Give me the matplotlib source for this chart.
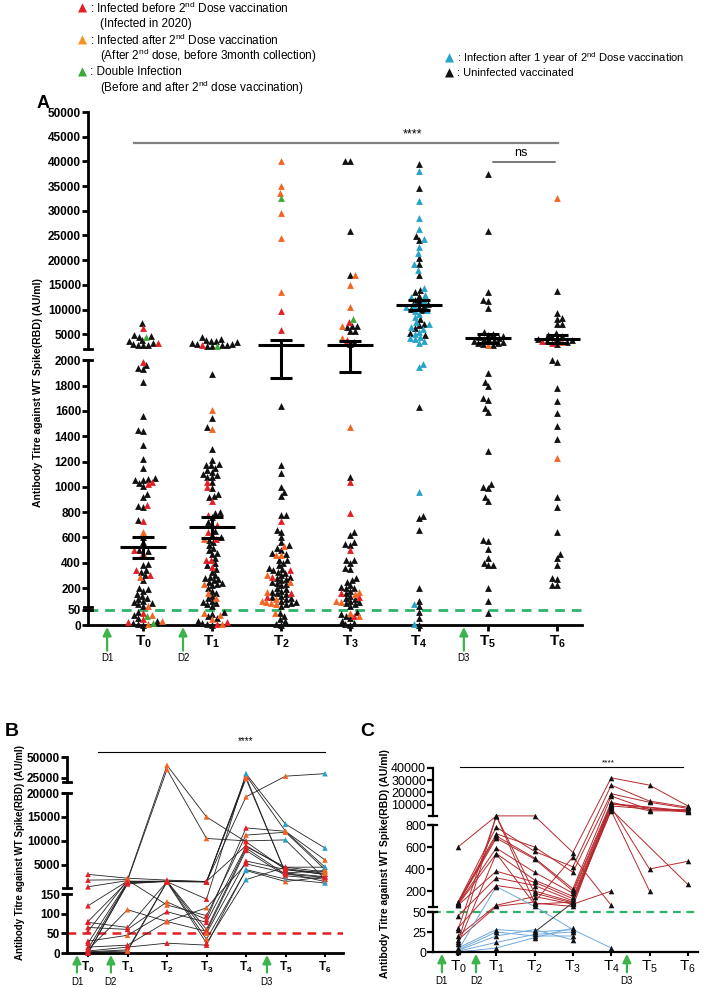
import numpy as np
import matplotlib
matplotlib.use('Agg')
import matplotlib.pyplot as plt
import matplotlib.transforms as mtransforms

plt.rcParams['font.family'] = ['Liberation Sans', 'DejaVu Sans']
plt.rcParams['mathtext.fontset'] = 'custom'
plt.rcParams['mathtext.rm'] = 'Liberation Sans'
plt.rcParams['mathtext.bf'] = 'Liberation Sans:bold'
plt.rcParams['mathtext.it'] = 'Liberation Sans:italic'

W, H = 710, 988
RED, ORANGE, GREEN, CYAN, BLACK = '#e31e24', '#f26522', '#3aaa35', '#27a2c8', '#111111'
LINE_GREEN = '#2fb36b'

time_labels = ['0', '1', '2', '3', '4', '5', '6']
dose_labels = ['D1', 'D2', 'D3']

# ---------------- panel A: titre per time point, split by infection group
a_black = [
    [7200, 4800, 4700, 4500, 3800, 3600, 3300, 3000, 2900, 2800, 2800,
     1960, 1940, 1930, 1830, 1560, 1450, 1440, 1330, 1220, 1150, 1070, 1060, 1055, 1050, 1030, 1010,
     940, 920, 850, 840, 740, 600, 560, 500, 490, 390, 380, 340, 330, 300, 260, 200, 190, 180,
     150, 140, 125, 110, 100, 90, 80, 70, 60,
     45, 35, 25, 15, 8, 3, 0],
    [4400, 4000, 3900, 3700, 3600, 3400, 3300, 3100, 3000, 2900, 2800, 2700, 2600,
     1890, 1540, 1470, 1300, 1210, 1180, 1170, 1170, 1150, 1130, 1120, 1100, 1090, 1080, 1080, 1040,
     990, 940, 930, 920, 800, 790, 760, 720, 700, 650, 620, 600, 580, 560, 540, 520, 500, 480, 470,
     440, 400, 380, 350, 330, 300, 290, 280, 270, 260, 250, 240, 230, 220, 200, 180, 160,
     140, 120, 100, 90, 80, 70, 60,
     45, 38, 30, 22, 15, 8, 3, 0],
    [1640, 1170, 1110, 1000, 960, 930, 780, 780, 660, 640, 600, 560, 540, 520, 500, 480, 470,
     420, 420, 400, 380, 360, 350, 340, 330, 320, 300, 290, 280, 270, 260, 250, 240, 230, 220,
     200, 190, 180, 170, 160, 150, 140, 130, 120, 110, 100, 90, 80, 70, 60,
     40, 30, 20, 12, 5, 1],
    [40000, 40000, 26000, 17000, 6700, 6600, 6500, 5700, 5700, 3500, 3000,
     1080, 640, 620, 560, 550, 540, 420, 420, 400, 360, 350, 280, 260, 250, 220, 210, 200, 200,
     180, 160, 140, 120, 110, 100, 90, 80, 70, 60,
     45, 38, 30, 22, 15, 8, 3, 0],
    [39400, 34600, 24800, 24000, 20500, 19300, 17000, 14000, 13500, 12800, 12000, 11500, 11200,
     10800, 10500, 10200, 9800, 8000, 7000, 6800, 6200, 5200, 4800,
     1630, 770, 750, 660, 200, 100, 60, 45, 25, 0],
    [37500, 26000, 13500, 12000, 11800, 10400, 5500, 5000, 4800, 4600, 4400, 4200, 4000, 3900,
     3800, 3700, 3500, 3300, 3200, 3000, 2900,
     1900, 1830, 1800, 1700, 1690, 1620, 1590, 1280, 1020, 1000, 990, 920, 890, 580, 570, 510,
     440, 400, 380, 380, 200, 100, 40],
    [13800, 9300, 8300, 8100, 7000, 7000, 5200, 4800, 4600, 4400, 4200, 4000, 3800, 3600, 3500,
     3100, 2000, 1990, 1780, 1680, 1580, 1480, 1380, 920, 840, 640, 470, 440, 380, 280, 270,
     220, 220],
]
a_red = [
    [6200, 3300, 1990, 1040, 1020, 860, 730, 500, 480, 340, 300, 40, 20, 10],
    [2800, 1040, 1000, 890, 780, 700, 640, 590, 420, 420, 370, 10, 5],
    [9700, 5800, 730, 340, 290, 160, 130],
    [7400, 3800, 1040, 790, 500, 160, 130, 30],
    [], [], [3600, 3300],
]
a_orange = [
    [640, 290, 60, 35, 15, 5],
    [1610, 1460, 590, 230, 160, 120, 40, 35, 20, 5],
    [40000, 35000, 33500, 29500, 24500, 13500, 530, 460, 460, 300, 250, 170, 110, 100, 90,
     80, 70, 40],
    [17000, 15000, 10500, 6700, 4200, 1470, 170, 150, 100, 90, 40, 30],
    [], [2800], [32500, 3400, 1230],
]
a_green = [[4400, 30, 8], [2650], [32500], [8000], [], [], []]
a_cyan = [
    [], [], [], [],
    [38000, 32000, 28500, 26300, 24200, 22700, 21500, 19300, 18000, 14400, 13000, 12500, 12000,
     11000, 10500, 10000, 9600, 9000, 8500, 7500, 7000, 6500, 6000, 5500, 5000, 4500, 4200, 4000,
     3600, 3300, 1970, 1945, 960, 70, 2],
    [], [],
]
a_mean = [526, 684, 2800, 2800, 10900, 4200, 4000]
a_sem_lo = [439, 597, 1858, 1905, 9900, 3300, 3300]
a_sem_hi = [605, 763, 3800, 3600, 11900, 5100, 4800]
a_yticks = [0, 50, 200, 400, 600, 800, 1000, 1200, 1400, 1600, 1800, 2000,
            5000, 10000, 15000, 20000, 25000, 30000, 35000, 40000, 45000, 50000]

# ---------------- panel B: follow-up of infected subjects
b_values = [
    [3000, 2200, 1800, 1500, 26000, 3300, 2500],
    [1800, 1900, 40000, 15000, 9800, 4000, 3000],
    [400, 1700, 35000, 10500, 10000, 10200, 2000],
    [120, 1600, 1500, 1400, 28000, 12000, 6000],
    [80, 1500, 1600, 1500, 19200, 27000, 30000],
    [78, 65, 1450, 137, 30000, 13500, 8500],
    [65, 60, 130, 85, 12700, 12000, 4500],
    [55, 1800, 122, 95, 11200, 11800, 4000],
    [30, 45, 105, 78, 8800, 4500, 3500],
    [25, 1400, 1550, 60, 8500, 3000, 2400],
    [15, 20, 80, 55, 8000, 2700, 2000],
    [10, 1300, 1500, 50, 5800, 4000, 3000],
    [8, 110, 80, 115, 5200, 3300, 1500],
    [5, 15, 25, 20, 4000, 2000, 1200],
    [3, 8, 1500, 35, 3800, 1500, 2500],
    [2, 5, 1400, 25, 1900, 4500, 4500],
    [0, 1200, 1500, 1450, 24000, 3300, 3800],
    [0, 1000, 1600, 1500, 9000, 4200, 3200],
]
b_groups = ['rooorrr', 'rrooorr', 'rroorcr', 'rorrooo', 'rrrrooc', 'rrorccc', 'rrorroc',
            'roorooo', 'rorrrro', 'rrroroo', 'rrrrrrr', 'rroorrr', 'rooorro', 'rrrrccc',
            'rrrocor', 'rorrcrc', 'rrrroro', 'rrrrrro']
b_yticks = [0, 50, 100, 150, 5000, 10000, 15000, 20000, 25000, 50000]

# ---------------- panel C: follow-up of uninfected subjects
nan = np.nan
c_values = [
    [600, 880, 880, 550, 32000, 26000, 9000],
    [100, 780, 560, 420, 26000, 13000, 8000],
    [95, 720, 600, 370, 19000, 12000, 7000],
    [90, 700, 500, 220, 17000, 6000, 6000],
    [85, 680, 490, 200, 12000, 5000, 5000],
    [80, 590, 370, 180, 10500, nan, 4500],
    [75, 540, 300, 150, 9000, nan, 4000],
    [70, 380, 280, 130, 8000, 400, 470],
    [45, 320, 250, 110, 6000, nan, 260],
    [30, 250, 200, 100, 5000, 200, nan],
    [28, 880, 180, 90, 11000, nan, 5000],
    [20, 70, 150, 80, 200, nan, nan],
    [15, 60, 100, 510, 70, nan, nan],
    [12, 880, 90, 60, 10000, nan, nan],
    [10, 540, 80, 100, 7000, nan, nan],
    [5, 28, 25, 28, 5, nan, nan],
    [3, 25, 20, 20, nan, nan, nan],
    [2, 20, 28, 15, nan, nan, nan],
    [1, 12, 22, 25, nan, nan, nan],
    [0, 5, 18, 30, nan, nan, nan],
    [2, 240, 60, 28, nan, nan, nan],
    [nan, nan, 25, 95, nan, nan, nan],
]
c_groups = ['r'] * 15 + ['b'] * 6 + ['k']
c_yticks = [0, 25, 50, 200, 400, 600, 800, 10000, 20000, 30000, 40000]

# broken axis segments: (value_from, value_to, px_from, px_to) measured up from the x axis
a_segs = [(0, 50, 0, 15), (50, 2000, 18, 264.7), (2000, 50000, 276, 513)]
b_segs = [(0, 150, 0, 59), (150, 20000, 65, 160), (20000, 50000, 171, 196)]
c_segs = [(0, 50, 0, 40), (50, 800, 44.5, 127), (800, 40000, 136, 184)]


def broken_scale(segs):
    def fwd(v):
        v = np.asarray(v, dtype=float)
        a, b, ua, ub = segs[0]
        out = ua + (v - a) * (ub - ua) / (b - a)
        for a, b, ua, ub in segs[1:]:
            out = np.where(v > a, ua + (v - a) * (ub - ua) / (b - a), out)
        return out

    def inv(u):
        u = np.asarray(u, dtype=float)
        a, b, ua, ub = segs[0]
        out = a + (u - ua) * (b - a) / (ub - ua)
        prev = ub
        for a, b, ua, ub in segs[1:]:
            out = np.where(u > prev, a, out)
            out = np.where(u > ua, a + (u - ua) * (b - a) / (ub - ua), out)
            prev = ub
        return out
    return fwd, inv


def make_axes(fig, left, right, base, segs, vmax, xlim):
    fwd, inv = broken_scale(segs)
    top = float(fwd(vmax))
    ax = fig.add_axes([left / W, 1 - base / H, (right - left) / W, top / H])
    ax.set_yscale('function', functions=(fwd, inv))
    ax.set_ylim(0, vmax)
    ax.set_xlim(*xlim)
    for s in ['top', 'right', 'left']:
        ax.spines[s].set_visible(False)
    return ax, fwd


def broken_spine(ax, segs, lw, cap_px):
    tr = mtransforms.blended_transform_factory(ax.transAxes, ax.transData)
    c = cap_px / (ax.get_position().width * W)
    for i, (a, b, ua, ub) in enumerate(segs):
        lo = a if i == 0 else a + 1e-6
        ax.plot([0, 0], [lo, b], transform=tr, color='k', lw=lw, clip_on=False,
                solid_capstyle='projecting')
        if i > 0:
            ax.plot([-c, c], [lo, lo], transform=tr, color='k', lw=lw, clip_on=False)
        if i < len(segs) - 1:
            ax.plot([-c, c], [b, b], transform=tr, color='k', lw=lw, clip_on=False)


def swarm(us, d):
    xs = np.zeros(len(us))
    placed = []
    for k, i in enumerate(np.argsort(us, kind='stable')):
        forb = []
        for j in placed:
            du = us[i] - us[j]
            if abs(du) < d:
                w = np.sqrt(d * d - du * du)
                forb.append((xs[j] - w, xs[j] + w))
        cands = [0.0] + [e for iv in forb for e in iv]
        cands.sort(key=lambda c: (round(abs(c), 4), c if k % 2 else -c))
        for c in cands:
            if all(not (lo + 1e-6 < c < hi - 1e-6) for lo, hi in forb):
                xs[i] = c
                break
        placed.append(i)
    return xs


def doses(ax, xs, head, tail, lab, size):
    tr = mtransforms.blended_transform_factory(ax.transData, ax.transAxes)
    for x, name in zip(xs, dose_labels):
        ax.annotate('', xy=(x, head), xytext=(x, tail), xycoords=tr, textcoords=tr,
                    arrowprops=dict(arrowstyle='-|>,head_width=0.25,head_length=0.5',
                                    color='#3cb44b', lw=1.6, shrinkA=0, shrinkB=0),
                    annotation_clip=False)
        ax.text(x, lab, name, transform=tr, ha='center', va='top', fontsize=size)


fig = plt.figure(figsize=(W / 100, H / 100), dpi=100)

# ---------------- legend block
leg_rows = [
    (RED, 'Infected before 2$^{\\mathrm{nd}}$ Dose vaccination', '(Infected in 2020)'),
    ('#f7941d', 'Infected after 2$^{\\mathrm{nd}}$ Dose vaccination',
     '(After 2$^{\\mathrm{nd}}$ dose, before 3month collection)'),
    (GREEN, 'Double Infection', '(Before and after 2$^{\\mathrm{nd}}$ dose vaccination)'),
]
narrow = ['Liberation Sans Narrow', 'Liberation Sans', 'DejaVu Sans']
for k, (col, l1, l2) in enumerate(leg_rows):
    y = 8 + 32 * k
    fig.text(82 / W, 1 - y / H, '\u25B2', color=col, fontsize=8.5, ha='center', va='center',
             family='DejaVu Sans')
    fig.text(90 / W, 1 - y / H, ': ' + l1, fontsize=8.5, va='center', family=narrow)
    fig.text(100 / W, 1 - (y + 16) / H, l2, fontsize=8.5, va='center', family=narrow)
for k, (col, l1) in enumerate([(CYAN, 'Infection after 1 year of 2$^{\\mathrm{nd}}$ Dose vaccination'),
                               (BLACK, 'Uninfected vaccinated')]):
    y = 58 + 15 * k
    fig.text(449 / W, 1 - y / H, '\u25B2', color=col, fontsize=8.5, ha='center', va='center',
             family='DejaVu Sans')
    fig.text(457 / W, 1 - y / H, ': ' + l1, fontsize=8, va='center', family=narrow)

# ---------------- panel A
px_a = 69.0
axA, fwdA = make_axes(fig, 88, 582, 625, a_segs, 50000, ((88 - 143) / px_a, (582 - 143) / px_a))
cols = [(a_black, BLACK), (a_red, RED), (a_orange, ORANGE), (a_green, GREEN), (a_cyan, CYAN)]
for t in range(7):
    vals = np.concatenate([np.asarray(c[t], float) for c, _ in cols])
    tags = np.concatenate([[n] * len(c[t]) for n, (c, _) in enumerate(cols)]).astype(int)
    offs = swarm(fwdA(vals), 5.0) / px_a
    for n, (_, colr) in enumerate(cols):
        m = tags == n
        if m.any():
            axA.scatter(t + offs[m], vals[m], marker='^', s=24, color=colr, linewidths=0,
                        zorder=3 + (n > 0), clip_on=False)
xs = np.arange(7)
axA.hlines(a_mean, xs - 0.34, xs + 0.34, color='k', lw=2.2, zorder=6)
axA.errorbar(xs, a_mean, yerr=[np.subtract(a_mean, a_sem_lo), np.subtract(a_sem_hi, a_mean)],
             fmt='none', ecolor='k', elinewidth=2.2, capsize=8, capthick=2.2, zorder=6)
axA.axhline(50, color=LINE_GREEN, ls=(0, (3.5, 2.5)), lw=2, zorder=2)
broken_spine(axA, a_segs, 2, 4)
axA.spines['bottom'].set_linewidth(2)
axA.set_yticks(a_yticks)
axA.set_yticklabels([str(v) for v in a_yticks], fontsize=8.5, fontweight='bold')
axA.set_xticks(xs)
axA.set_xticklabels(['$\\mathbf{T_{%s}}$' % s for s in time_labels], fontsize=11)
axA.tick_params(axis='y', width=2, length=4, pad=1)
axA.tick_params(axis='x', width=2, length=4, pad=2)
axA.set_ylim(0, 50000)
axA.set_xlim((88 - 143) / px_a, (582 - 143) / px_a)
trA = mtransforms.blended_transform_factory(axA.transData, axA.transAxes)
axA.plot([-0.13, 6.01], [0.94, 0.94], transform=trA, color='#808080', lw=1.6, clip_on=False)
axA.text(3.9, 0.944, '****', transform=trA, ha='center', va='bottom', fontsize=9)
axA.plot([5.07, 5.97], [0.903, 0.903], transform=trA, color='#555555', lw=1.1, clip_on=False)
axA.text(5.48, 0.908, 'ns', transform=trA, ha='center', va='bottom', fontsize=9)
doses(axA, [-0.52, 0.58, 4.65], -0.004, -0.05, -0.055, 7)
fig.text(43 / W, 1 - 104 / H, 'A', fontsize=13, fontweight='bold', ha='center', va='center')
fig.text(38 / W, 1 - 393 / H, 'Antibody Titre against WT Spike(RBD) (AU/ml)', rotation=90,
         fontsize=7.5, fontweight='bold', ha='center', va='center')

# ---------------- panel B
px_b = 39.5
axB, fwdB = make_axes(fig, 67, 343, 953, b_segs, 50000, ((67 - 88) / px_b, (343 - 88) / px_b))
cmap = {'r': RED, 'o': ORANGE, 'c': CYAN}
for vals, grp in zip(b_values, b_groups):
    axB.plot(xs, vals, color='#222222', lw=0.6, zorder=2)
    axB.scatter(xs, vals, marker='^', s=16, c=[cmap[g] for g in grp], linewidths=0, zorder=3,
                clip_on=False)
axB.axhline(50, color=RED, ls=(0, (3.5, 2.5)), lw=1.8, zorder=1)
broken_spine(axB, b_segs, 2, 4)
axB.spines['bottom'].set_linewidth(2)
axB.set_yticks(b_yticks)
axB.set_yticklabels([str(v) for v in b_yticks], fontsize=8.5, fontweight='bold')
axB.set_xticks(xs)
axB.set_xticklabels(['$\\mathbf{T_{%s}}$' % s for s in time_labels], fontsize=8.5)
axB.tick_params(axis='y', width=2, length=4, pad=1)
axB.tick_params(axis='x', width=1.5, length=3, pad=2)
axB.set_ylim(0, 50000)
axB.set_xlim((67 - 88) / px_b, (343 - 88) / px_b)
trB = mtransforms.blended_transform_factory(axB.transData, axB.transAxes)
axB.plot([0.25, 6.0], [1.026, 1.026], transform=trB, color='k', lw=0.8, clip_on=False)
axB.text(4.0, 1.055, '****', transform=trB, ha='center', va='bottom', fontsize=7)
doses(axB, [-0.28, 0.58, 4.53], -0.01, -0.10, -0.12, 7)
fig.text(5 / W, 1 - 732 / H, 'B', fontsize=14, fontweight='bold', ha='left', va='center')
fig.text(20 / W, 1 - 852 / H, 'Antibody Titre against WT Spike(RBD) (AU/ml)', rotation=90,
         fontsize=7, fontweight='bold', ha='center', va='center')

# ---------------- panel C
px_c = 38.3
axC, fwdC = make_axes(fig, 433, 698, 952, c_segs, 40000, ((433 - 458) / px_c, (698 - 458) / px_c))
lmap = {'r': '#b5292d', 'b': '#6fa8dc', 'k': '#333333'}
for vals, grp in zip(c_values, c_groups):
    v = np.asarray(vals, float)
    ok = ~np.isnan(v)
    axC.plot(xs[ok], v[ok], color=lmap[grp], lw=0.7, zorder=2)
    axC.scatter(xs[ok], v[ok], marker='^', s=16, color=BLACK, linewidths=0, zorder=3,
                clip_on=False)
axC.axhline(50, color=LINE_GREEN, ls=(0, (3.5, 2.5)), lw=1.6, zorder=1)
broken_spine(axC, c_segs, 1.6, 4)
axC.spines['bottom'].set_linewidth(1.6)
axC.set_yticks(c_yticks)
axC.set_yticklabels([str(v) for v in c_yticks], fontsize=9)
axC.set_xticks(xs)
axC.set_xticklabels(['T$_{%s}$' % s for s in time_labels], fontsize=11)
axC.tick_params(axis='y', width=1.6, length=4, pad=1)
axC.tick_params(axis='x', width=1.5, length=3, pad=2)
axC.set_ylim(0, 40000)
axC.set_xlim((433 - 458) / px_c, (698 - 458) / px_c)
trC = mtransforms.blended_transform_factory(axC.transData, axC.transAxes)
axC.plot([0.05, 5.87], [1.005, 1.005], transform=trC, color='k', lw=0.8, clip_on=False)
axC.text(3.92, 1.01, '****', transform=trC, ha='center', va='bottom', fontsize=6)
doses(axC, [-0.42, 0.47, 4.41], -0.01, -0.11, -0.13, 7)
fig.text(360 / W, 1 - 732 / H, 'C', fontsize=14, fontweight='bold', ha='left', va='center')
fig.text(385 / W, 1 - 864 / H, 'Antibody Titre against WT Spike(RBD) (AU/ml)', rotation=90,
         fontsize=7.5, fontweight='bold', ha='center', va='center')

fig.savefig('out.png', dpi=100)
